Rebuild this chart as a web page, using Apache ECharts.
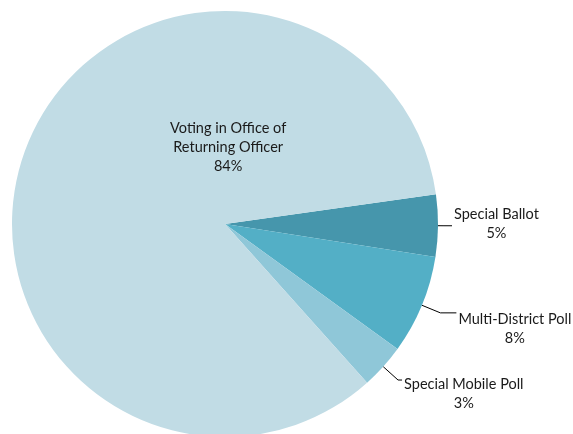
<!DOCTYPE html>
<html>
<head>
<meta charset="utf-8">
<script src="https://cdn.jsdelivr.net/npm/echarts@6/dist/echarts.min.js"></script>
<style>
  html, body { margin: 0; padding: 0; background: #fff; }
  #chart { width: 573px; height: 434px; }
</style>
</head>
<body>
<div id="chart"></div>
<script>
// slices, clockwise from the top edge of "Special Ballot"
var categories = ['Special Ballot', 'Multi-District Poll', 'Special Mobile Poll', 'Voting in Office of\nReturning Officer'];
var shares = [4.7, 7.5, 3.4, 84.4];

var colors = ['#4696ac', '#53afc6', '#8fc7d8', '#c1dce5'];
// leader line lengths per slice (first radial piece, then horizontal piece)
var lineLen = [6, 20, 20, 0];
var lineLen2 = [8, 16, 4, 0];
// label nudges after layout
var nudgeX = [0, 0, 0, 106];
var nudgeY = [-2, 16, 14, -39];

var chart = echarts.init(document.getElementById('chart'));

var data = categories.map(function (name, i) {
    var item = {
        name: name,
        value: shares[i],
        itemStyle: { color: colors[i] },
        labelLine: { length: lineLen[i], length2: lineLen2[i] }
    };
    if (i === 3) {
        item.label = { position: 'inside' };
        item.labelLine = { show: false };
    }
    return item;
});

chart.setOption({
    animation: false,
    series: [{
        type: 'pie',
        center: [225, 224],
        radius: 213,
        startAngle: 8,
        clockwise: true,
        avoidLabelOverlap: false,
        silent: true,
        data: data,
        label: {
            position: 'outside',
            distanceToLabelLine: 2,
            fontFamily: 'Lato',
            fontSize: 14.5,
            color: '#1a1a1a',
            formatter: function (p) {
                return '{t|' + p.name + '}\n{t|' + Math.round(p.percent) + '%}';
            },
            rich: {
                t: { align: 'center', fontFamily: 'Lato', fontSize: 14.5, color: '#1a1a1a', lineHeight: 19 }
            }
        },
        labelLine: {
            lineStyle: { color: '#000', width: 1 }
        },
        labelLayout: function (p) {
            return { dx: nudgeX[p.dataIndex], dy: nudgeY[p.dataIndex] };
        }
    }]
});
</script>
</body>
</html>
